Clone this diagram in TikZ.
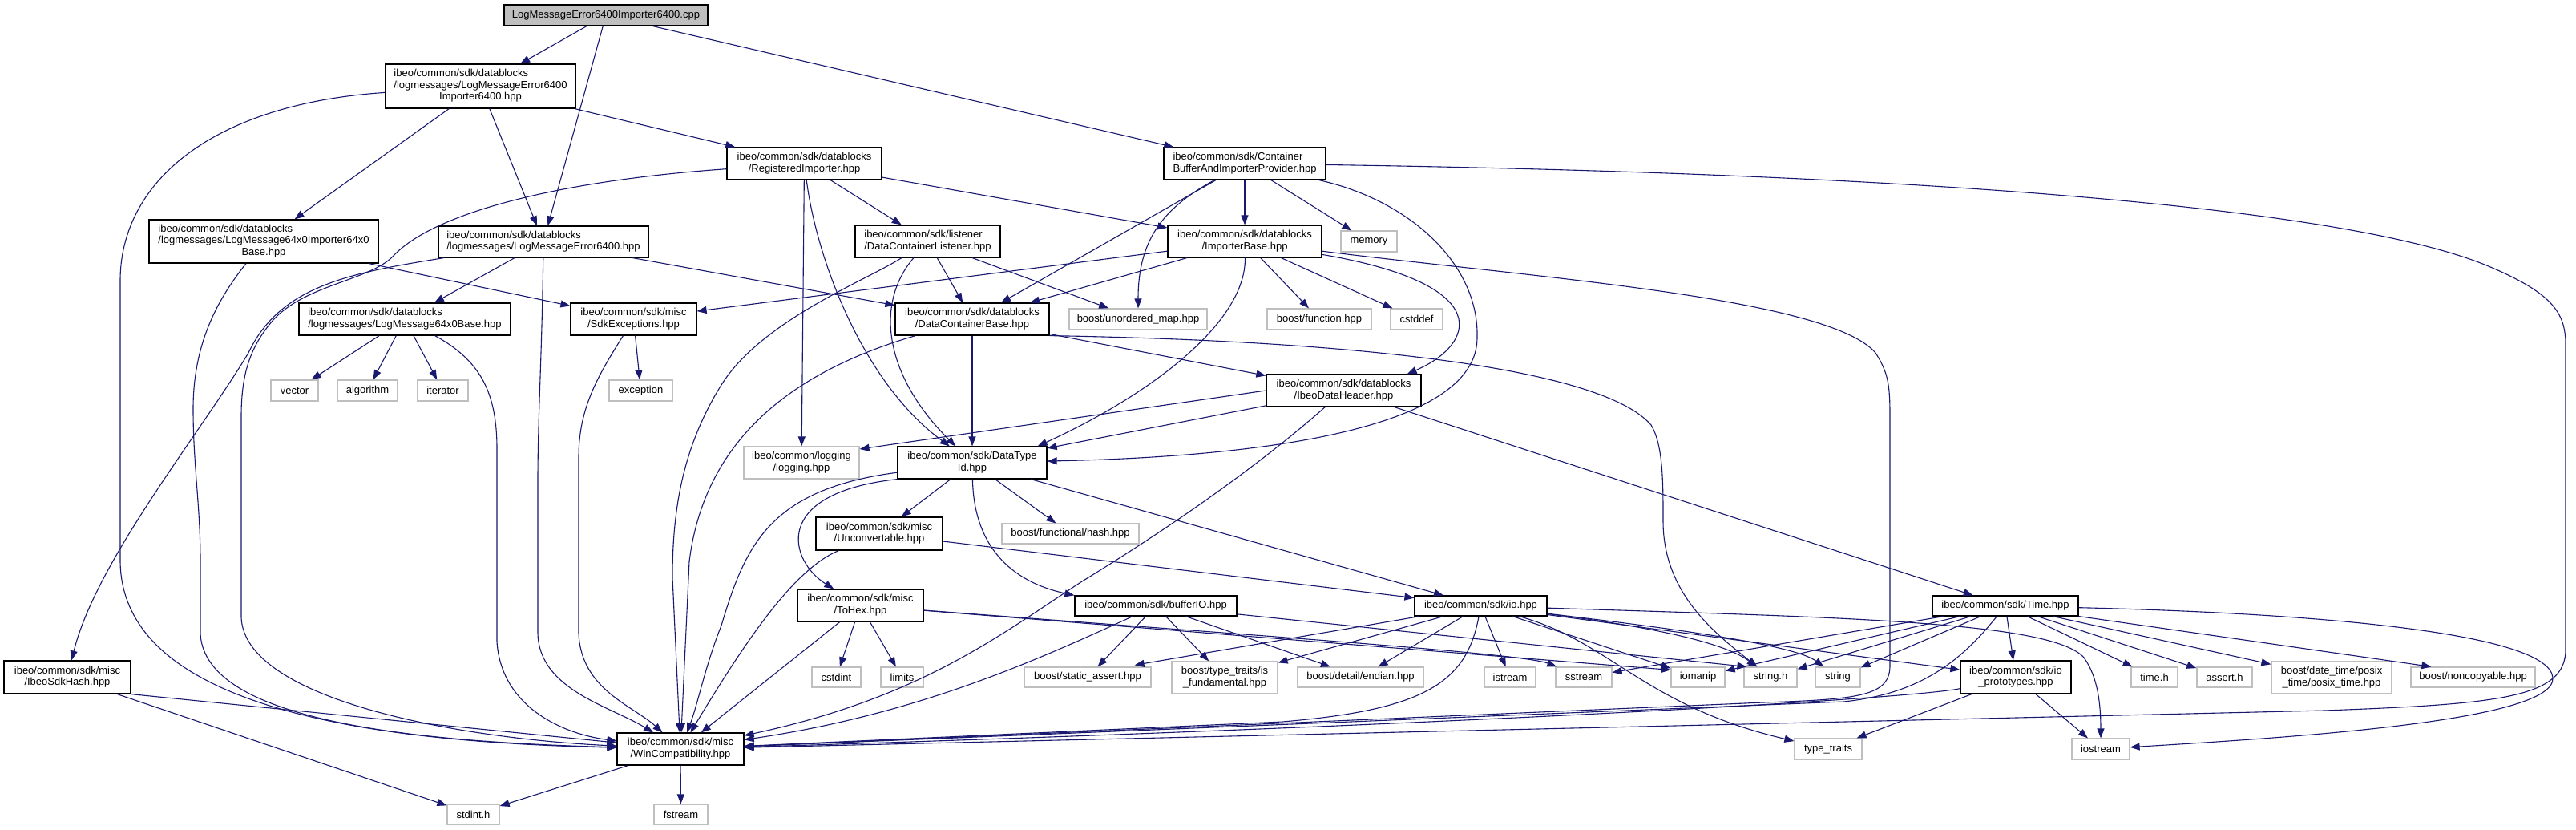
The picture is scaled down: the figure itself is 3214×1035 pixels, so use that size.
\documentclass[tikz,border=0pt]{standalone}
\usepackage{fontspec}
\setmainfont{Liberation Sans}
\usetikzlibrary{arrows.meta}
\definecolor{edgec}{HTML}{191970}
\definecolor{extc}{HTML}{BFBFBF}
\definecolor{rootc}{HTML}{BFBFBF}
\newcommand{\twol}[2]{\begin{tabular}{@{}l@{}}#1\\\multicolumn{1}{@{}c@{}}{#2}\end{tabular}}
\newcommand{\threel}[3]{\begin{tabular}{@{}l@{}}#1\\#2\\\multicolumn{1}{@{}c@{}}{#3}\end{tabular}}
\newcommand{\nb}[6]{\node[#1, minimum width=#4pt, minimum height=#5pt] (#2) at (#3) {#6};}
\begin{document}
\begin{tikzpicture}[x=1pt,y=-1pt,
  font=\fontsize{13pt}{14.5pt}\selectfont,
  doc/.style={draw=black, line width=1.2pt, fill=white, inner sep=0pt},
  ext/.style={draw=extc, line width=1.2pt, fill=white, inner sep=0pt},
  rootn/.style={draw=black, line width=1.2pt, fill=rootc, inner sep=0pt},
  dep/.style={draw=edgec, line width=1.1pt, -{Triangle[length=12pt,width=9pt]}}]
\fill[white] (0,0) rectangle (3214,1035);
\useasboundingbox (0,0) rectangle (3214,1035);
% nodes
\nb{rootn}{root}{756,19}{254}{26}{LogMessageError6400Importer6400.cpp}
\nb{doc}{A}{599.5,107.5}{237}{55}{\threel{ibeo/common/sdk/datablocks}{/logmessages/LogMessageError6400}{Importer6400.hpp}}
\nb{doc}{B}{329,301}{286}{54}{\threel{ibeo/common/sdk/datablocks}{/logmessages/LogMessage64x0Importer64x0}{Base.hpp}}
\nb{doc}{C}{678,301.5}{262}{39}{\twol{ibeo/common/sdk/datablocks}{/logmessages/LogMessageError6400.hpp}}
\nb{doc}{R}{1003.5,204}{193}{40}{\twol{ibeo/common/sdk/datablocks}{/RegisteredImporter.hpp}}
\nb{doc}{DCL}{1157.5,301}{181}{40}{\twol{ibeo/common/sdk/listener}{/DataContainerListener.hpp}}
\nb{doc}{CB}{1553,204}{202}{40}{\twol{ibeo/common/sdk/Container}{BufferAndImporterProvider.hpp}}
\nb{doc}{IB}{1553,301}{192}{40}{\twol{ibeo/common/sdk/datablocks}{/ImporterBase.hpp}}
\nb{ext}{memory}{1708,301}{70}{26}{memory}
\nb{doc}{LB}{505,398}{264}{40}{\twol{ibeo/common/sdk/datablocks}{/logmessages/LogMessage64x0Base.hpp}}
\nb{ext}{vector}{367.5,487}{59}{26}{vector}
\nb{ext}{algorithm}{458.5,487}{75}{26}{algorithm}
\nb{ext}{iterator}{552.5,487}{63}{26}{iterator}
\nb{doc}{S}{790.5,398}{157}{40}{\twol{ibeo/common/sdk/misc}{/SdkExceptions.hpp}}
\nb{ext}{exception}{799.5,487}{79}{26}{exception}
\nb{doc}{DCB}{1213,398}{192}{40}{\twol{ibeo/common/sdk/datablocks}{/DataContainerBase.hpp}}
\nb{ext}{umap}{1420,398}{172}{26}{boost/unordered\_map.hpp}
\nb{ext}{function}{1646,398}{130}{26}{boost/function.hpp}
\nb{ext}{cstddef}{1767.5,398}{65}{26}{cstddef}
\nb{doc}{IDH}{1676.5,487}{193}{40}{\twol{ibeo/common/sdk/datablocks}{/IbeoDataHeader.hpp}}
\nb{ext}{logging}{1000,577}{144}{40}{\twol{ibeo/common/logging}{/logging.hpp}}
\nb{doc}{DTI}{1213,577}{186}{40}{\twol{ibeo/common/sdk/DataType}{Id.hpp}}
\nb{doc}{U}{1097,665.5}{158}{41}{\twol{ibeo/common/sdk/misc}{/Unconvertable.hpp}}
\nb{ext}{hash}{1335.5,665.5}{171}{25}{boost/functional/hash.hpp}
\nb{doc}{H}{84,844.5}{158}{41}{\twol{ibeo/common/sdk/misc}{/IbeoSdkHash.hpp}}
\nb{ext}{stdint}{590.5,1015.5}{65}{25}{stdint.h}
\nb{doc}{W}{849,934}{158}{40}{\twol{ibeo/common/sdk/misc}{/WinCompatibility.hpp}}
\nb{doc}{ToHex}{1073.5,755}{157}{40}{\twol{ibeo/common/sdk/misc}{/ToHex.hpp}}
\nb{ext}{cstdint}{1043.5,844.5}{61}{25}{cstdint}
\nb{ext}{limits}{1125.5,844.5}{53}{25}{limits}
\nb{doc}{bufferIO}{1442,755.5}{202}{25}{ibeo/common/sdk/bufferIO.hpp}
\nb{ext}{sassert}{1357,844.5}{158}{25}{boost/static\_assert.hpp}
\nb{ext}{isfund}{1528,845}{132}{40}{\twol{boost/type\_traits/is}{\_fundamental.hpp}}
\nb{ext}{fstream}{849.5,1015.5}{67}{25}{fstream}
\nb{doc}{io}{1847.5,755.5}{165}{25}{ibeo/common/sdk/io.hpp}
\nb{ext}{endian}{1697.5,844.5}{157}{25}{boost/detail/endian.hpp}
\nb{ext}{istream}{1884,844.5}{64}{25}{istream}
\nb{ext}{sstream}{1976,844.5}{70}{25}{sstream}
\nb{ext}{iomanip}{2118.5,844.5}{67}{25}{iomanip}
\nb{ext}{stringh}{2209,844.5}{66}{25}{string.h}
\nb{ext}{string}{2293,844.5}{56}{25}{string}
\nb{ext}{tt}{2281,934}{84}{26}{type\_traits}
\nb{doc}{Time}{2502,755.5}{182}{25}{ibeo/common/sdk/Time.hpp}
\nb{doc}{ioproto}{2515,844.5}{138}{41}{\twol{ibeo/common/sdk/io}{\_prototypes.hpp}}
\nb{ext}{timeh}{2688,844.5}{58}{25}{time.h}
\nb{ext}{asserth}{2775.5,844.5}{69}{25}{assert.h}
\nb{ext}{posix}{2909,845}{150}{40}{\twol{boost/date\_time/posix}{\_time/posix\_time.hpp}}
\nb{ext}{noncopy}{3085.5,844.5}{155}{25}{boost/noncopyable.hpp}
\nb{ext}{iostream}{2621,934}{72}{26}{iostream}
% edges: root
\draw[dep] (root) -- (A);
\draw[dep] (root) -- (C);
\draw[dep] (root) -- (CB);
% A
\draw[dep] (A) -- (B);
\draw[dep] (A) -- (C);
\draw[dep] (A) -- (R);
\draw[dep] (A) .. controls (260,130) and (150,230) .. (150,350) -- (150,700) .. controls (152,880) and (450,925) .. (W);
% B
\draw[dep] (B) -- (S);
\draw[dep] (B) .. controls (270,375) and (241,430) .. (241,510) .. controls (241,580) and (250,630) .. (250,700) -- (250,790) .. controls (255,900) and (520,925) .. (W);
% C
\draw[dep] (C) -- (LB);
\draw[dep] (C) .. controls (440,340) and (350,355) .. (310,440) .. controls (250,540) and (120,700) .. (H);
\draw[dep] (C) .. controls (676,450) and (671,520) .. (671,600) -- (671,790) .. controls (673,860) and (760,880) .. (W);
\draw[dep] (C) -- (DCB);
% R
\draw[dep] (R) -- (logging);
\draw[dep] (R) .. controls (1020,330) and (1080,480) .. (DTI);
\draw[dep] (R) -- (DCL);
\draw[dep] (R) -- (IB);
\draw[dep] (R) .. controls (700,225) and (540,265) .. (490,320) .. controls (460,350) and (380,355) .. (340,400) .. controls (310,435) and (301,470) .. (301,520) -- (301,770) .. controls (305,870) and (560,920) .. (W);
% CB
\draw[dep] (CB) -- (memory);
\draw[dep] (CB) -- (IB);
\draw[dep] (CB) -- (DCB);
\draw[dep] (CB) .. controls (1450,260) and (1420,300) .. (umap);
\draw[dep] (CB) .. controls (1760,250) and (1845,330) .. (1843,420) .. controls (1845,540) and (1550,570) .. (DTI);
\draw[dep] (CB) .. controls (2300,215) and (2900,250) .. (3100,330) .. controls (3185,365) and (3201,390) .. (3201,430) -- (3201,810) .. controls (3201,870) and (3120,878) .. (2900,886) -- (W);
% DCL
\draw[dep] (DCL) -- (DCB);
\draw[dep] (DCL) .. controls (1090,380) and (1105,470) .. (DTI);
\draw[dep] (DCL) -- (umap);
\draw[dep] (DCL) .. controls (1080,350) and (950,400) .. (900,480) .. controls (850,560) and (839,640) .. (839,720) -- (W);
% IB
\draw[dep] (IB) -- (S);
\draw[dep] (IB) -- (DCB);
\draw[dep] (IB) -- (function);
\draw[dep] (IB) -- (cstddef);
\draw[dep] (IB) .. controls (1870,355) and (1840,430) .. ([xshift=-18pt]IDH.north east);
\draw[dep] (IB) .. controls (1555,400) and (1440,490) .. ([xshift=-12pt]DTI.north east);
\draw[dep] (IB) .. controls (1900,345) and (2280,370) .. (2340,440) .. controls (2356,465) and (2358,480) .. (2358,520) -- (2358,830) .. controls (2358,868) and (2320,872) .. (2200,876) -- (W);
% LB
\draw[dep] (LB) -- (vector);
\draw[dep] (LB) -- (algorithm);
\draw[dep] (LB) -- (iterator);
\draw[dep] (LB) .. controls (600,450) and (620,490) .. (620,560) -- (620,800) .. controls (625,880) and (700,915) .. (W);
% S
\draw[dep] (S) -- (exception);
\draw[dep] (S) .. controls (745,470) and (722,510) .. (722,570) -- (722,790) .. controls (725,860) and (790,880) .. (W);
% DCB
\draw[dep] (DCB) -- (DTI);
\draw[dep] (DCB) -- (IDH);
\draw[dep] (DCB.south east) .. controls (1700,425) and (2000,460) .. (2060,530) .. controls (2075,555) and (2075,600) .. (2075,650) .. controls (2075,740) and (2140,790) .. (stringh);
\draw[dep] (DCB) .. controls (1000,460) and (880,540) .. (860,700) -- (W);
% IDH
\draw[dep] (IDH) -- (DTI);
\draw[dep] (IDH.west) -- ([yshift=17pt]logging.east);
\draw[dep] (IDH) -- (Time);
\draw[dep] (IDH) .. controls (1560,590) and (1440,670) .. (1350,725) .. controls (1250,790) and (1150,870) .. (W);
% DTI
\draw[dep] (DTI) -- (U);
\draw[dep] (DTI) -- (hash);
\draw[dep] (DTI.south west) .. controls (960,615) and (985,700) .. (ToHex);
\draw[dep] (DTI) .. controls (1215,680) and (1260,725) .. (bufferIO.north west);
\draw[dep] (DTI) -- (io);
\draw[dep] (DTI) .. controls (960,610) and (930,680) .. (900,780) .. controls (880,830) and (870,880) .. (W);
% U
\draw[dep] (U) -- (io);
\draw[dep] (U) .. controls (990,710) and (930,800) .. (W);
% ToHex
\draw[dep] (ToHex) -- (cstdint);
\draw[dep] (ToHex) -- (limits);
\draw[dep] (ToHex) -- (W);
\draw[dep] (ToHex) .. controls (1600,795) and (1900,815) .. (sstream);
\draw[dep] (ToHex) -- ([yshift=-4pt]iomanip.north west);
% bufferIO
\draw[dep] (bufferIO) -- (sassert);
\draw[dep] (bufferIO) -- (isfund);
\draw[dep] (bufferIO) -- (endian);
\draw[dep] (bufferIO) .. controls (1300,820) and (1150,890) .. (W);
\draw[dep] (bufferIO) -- ([xshift=4pt]stringh.north west);
% io
\draw[dep] (io) -- ([xshift=-21pt,yshift=2pt]sassert.north east);
\draw[dep] (io) -- (isfund);
\draw[dep] (io) -- (endian);
\draw[dep] (io) -- (istream);
\draw[dep] (io) .. controls (1830,850) and (1780,885) .. (1600,900) -- (W);
\draw[dep] (io) -- (iomanip);
\draw[dep] (io) .. controls (2050,780) and (2150,800) .. (stringh);
\draw[dep] (io) .. controls (2100,785) and (2240,805) .. (string);
\draw[dep] (io) .. controls (2010,800) and (2050,880) .. (tt);
\draw[dep] (io) .. controls (2300,770) and (2560,775) .. (2600,820) .. controls (2618,845) and (2621,880) .. (iostream);
\draw[dep] (io) -- (ioproto);
% Time
\draw[dep] (Time) -- (ioproto);
\draw[dep] (Time) -- (timeh);
\draw[dep] (Time) -- (asserth);
\draw[dep] (Time) -- (posix);
\draw[dep] (Time) -- ([xshift=26pt]noncopy.north west);
\draw[dep] (Time) .. controls (2900,765) and (3180,790) .. (3185,845) .. controls (3190,900) and (2850,920) .. (iostream);
\draw[dep] (Time) -- (sstream);
\draw[dep] (Time) -- (iomanip);
\draw[dep] (Time) -- (stringh);
\draw[dep] (Time) -- (string);
\draw[dep] (Time) .. controls (2450,820) and (2400,865) .. (2300,875) -- (W);
% ioproto
\draw[dep] (ioproto) -- (tt);
\draw[dep] (ioproto) -- (iostream);
\draw[dep] (ioproto) .. controls (2380,872) and (1800,905) .. (W);
% H and W
\draw[dep] (H) -- (stdint);
\draw[dep] (H.south east) -- (W);
\draw[dep] (W) -- (stdint);
\draw[dep] (W) -- (fstream);
\end{tikzpicture}
\end{document}
